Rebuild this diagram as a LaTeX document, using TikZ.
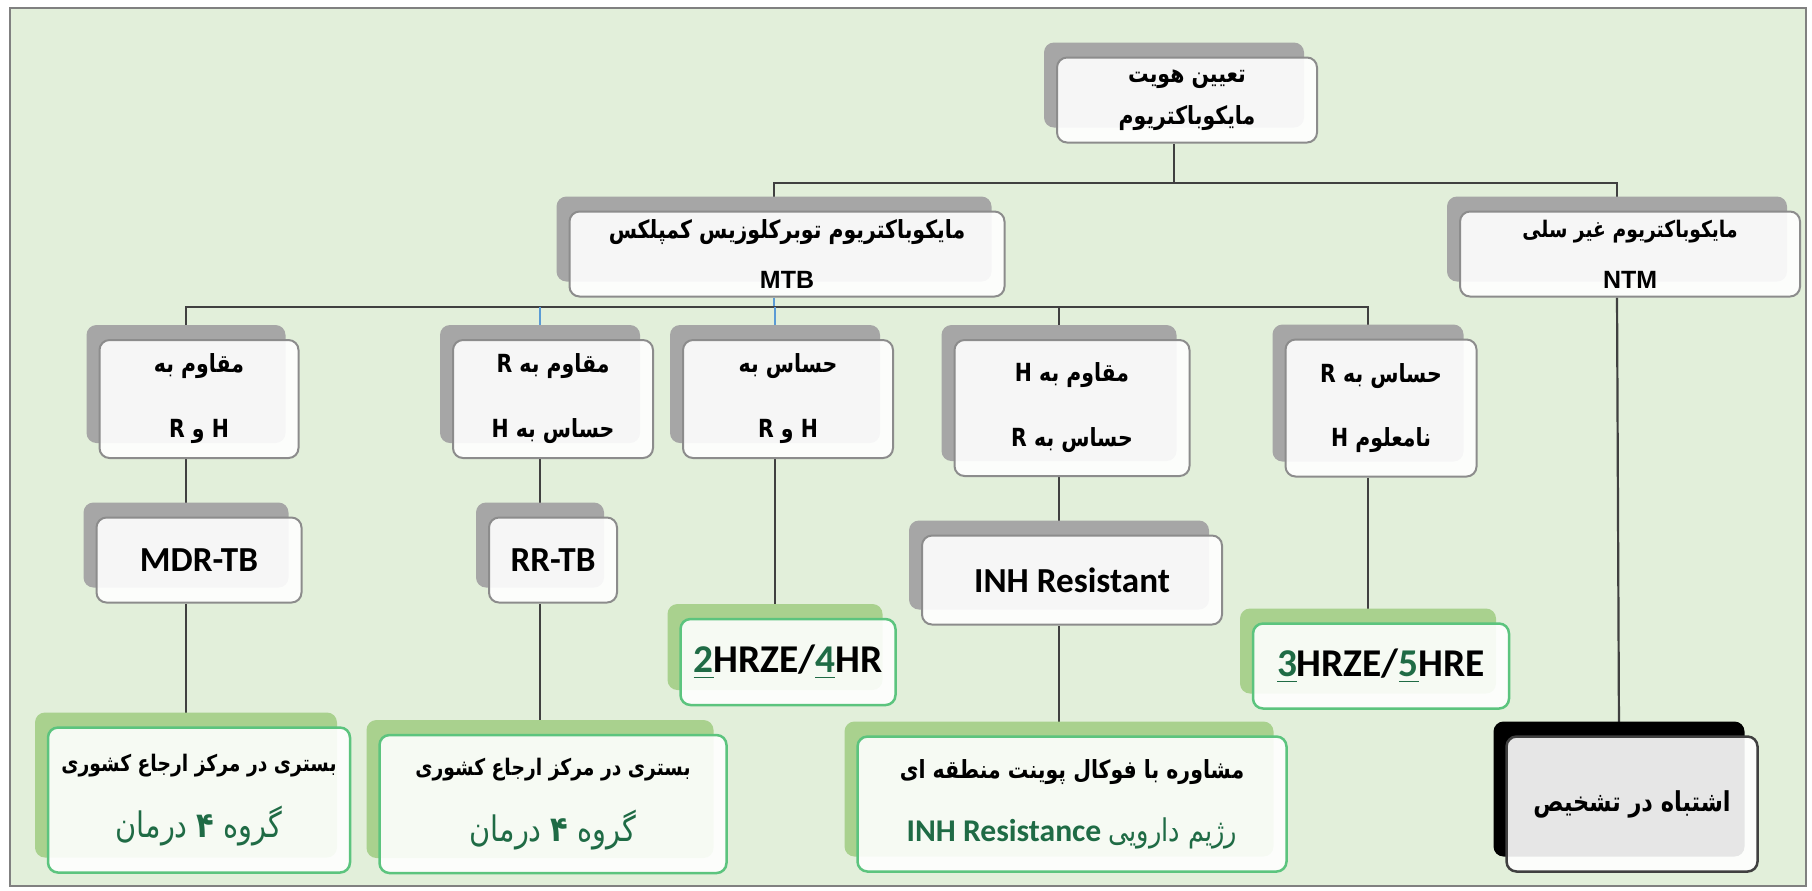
\documentclass[tikz,border=0pt]{standalone}
\usepackage{fontspec}
\usetikzlibrary{shadows}
\setmainfont{Carlito}
\newfontfamily\farsi[Script=Arabic,FakeStretch=0.82]{DejaVu Sans}
\newfontfamily\arialfont{Liberation Sans}
\TeXXeTstate=1
\definecolor{paper}{HTML}{E2EFDA}
\definecolor{frameline}{HTML}{808080}
\definecolor{shgray}{HTML}{A6A6A6}
\definecolor{edgegray}{HTML}{8C8C8C}
\definecolor{shgreen}{HTML}{A9D18E}
\definecolor{edgegreen}{HTML}{5CC47E}
\definecolor{txtgreen}{HTML}{1F6B45}
\definecolor{wiregray}{HTML}{404040}
\definecolor{wireblue}{HTML}{5B9BD5}
\newcommand{\rtlline}[1]{\beginR #1\endR}
\pgfdeclarelayer{paperlayer}
\pgfdeclarelayer{wirelayer}
\pgfsetlayers{paperlayer,wirelayer,main}

\begin{document}
\begin{tikzpicture}[x=0.1mm,y=-0.1mm,
  box/.style={rounded corners=1mm, line width=0.2mm, fill=white,
    fill opacity=0.9, text opacity=1, align=center, inner sep=0pt,
    general shadow={fill=#1, draw=none, fill opacity=1,
      shadow xshift=-1.3mm, shadow yshift=1.5mm}},
  graybox/.style={box=shgray, draw=edgegray,
    font=\farsi\bfseries\fontsize{7.1}{12}\selectfont},
  greenbox/.style={box=shgreen, draw=edgegreen, line width=0.25mm,
    font=\farsi\bfseries\fontsize{7.1}{12}\selectfont},
  darkbox/.style={box=black, draw=wiregray, line width=0.25mm,
    font=\farsi\bfseries\fontsize{7.8}{12}\selectfont},
  latin/.style={font=\rmfamily\bfseries\fontsize{10}{12}\selectfont},
  regimen/.style={font=\rmfamily\bfseries\fontsize{11.2}{13}\selectfont},
  wire/.style={draw=wiregray, line width=0.22mm},
  bluewire/.style={draw=wireblue, line width=0.15mm}]

\useasboundingbox (0,0) rectangle (1812,890);

\begin{pgfonlayer}{paperlayer}
\fill[white] (0,0) rectangle (1812,890);
\draw[frameline, fill=paper, line width=0.15mm] (10,8) rectangle (1806,886);
\end{pgfonlayer}

% top
\node[graybox, minimum width=26mm, minimum height=8.5mm] (ident) at (1187,100)
  {\rtlline{تعیین هویت}\\\rtlline{مایکوباکتریوم}};

% second row
\node[graybox, minimum width=43.5mm, minimum height=8.5mm] (mtb) at (787,254)
  {\rtlline{مایکوباکتریوم توبرکلوزیس کمپلکس}\\[2.5pt]{\arialfont MTB}};
\node[graybox, minimum width=34mm, minimum height=8.5mm] (ntm) at (1630,254)
  {{\fontsize{6.5}{12}\selectfont\rtlline{مایکوباکتریوم غیر سلی}}\\[2.5pt]{\arialfont NTM}};

% resistance patterns
\node[graybox, minimum width=19.9mm, minimum height=11.8mm] (r1) at (199,399)
  {\rtlline{مقاوم به}\\[6.5pt]\rtlline{H و R}};
\node[graybox, minimum width=20mm, minimum height=11.8mm] (r2) at (553,399)
  {\rtlline{مقاوم به R}\\[6.5pt]\rtlline{حساس به H}};
\node[graybox, minimum width=21mm, minimum height=11.8mm] (r3) at (788,399)
  {\rtlline{حساس به}\\[6.5pt]\rtlline{H و R}};
\node[graybox, minimum width=23.5mm, minimum height=13.6mm] (r4) at (1072,408)
  {\rtlline{مقاوم به H}\\[6.5pt]\rtlline{حساس به R}};
\node[graybox, minimum width=19.1mm, minimum height=13.7mm] (r5) at (1381,408)
  {\rtlline{حساس به R}\\[6pt]\rtlline{نامعلوم H}};

% diagnosis
\node[graybox, latin, minimum width=20.5mm, minimum height=8.5mm] (mdr) at (199,560) {MDR-TB};
\node[graybox, latin, minimum width=12.8mm, minimum height=8.5mm] (rr) at (553,560) {RR-TB};
\node[graybox, latin, minimum width=30mm, minimum height=8.9mm] (inh) at (1072,580) {INH Resistant};

% regimens
\node[greenbox, regimen, minimum width=21.5mm, minimum height=8.6mm] (t1) at (788,662)
  {{\color{txtgreen}\underline{2}}HRZE/{\color{txtgreen}\underline{4}}HR};
\node[greenbox, regimen, minimum width=25.6mm, minimum height=8.5mm] (t2) at (1381,666)
  {{\color{txtgreen}\underline{3}}HRZE/{\color{txtgreen}\underline{5}}HRE};

% referral
\node[greenbox, minimum width=30.2mm, minimum height=14.5mm] (b1) at (199,800)
  {{\fontsize{6.5}{12}\selectfont\rtlline{بستری در مرکز ارجاع کشوری}}\\[7pt]
   {\color{txtgreen}\mdseries\fontsize{10}{14}\selectfont\rtlline{گروه {\bfseries ۴} درمان}}};
\node[greenbox, minimum width=34.7mm, minimum height=13.8mm] (b2) at (553,804)
  {{\fontsize{6.5}{12}\selectfont\rtlline{بستری در مرکز ارجاع کشوری}}\\[7pt]
   {\color{txtgreen}\mdseries\fontsize{10}{14}\selectfont\rtlline{گروه {\bfseries ۴} درمان}}};
\node[greenbox, minimum width=42.9mm, minimum height=13.5mm] (b3) at (1072,804)
  {\rtlline{مشاوره با فوکال پوینت منطقه ای}\\[6pt]
   {\color{txtgreen}\rtlline{{\mdseries\fontsize{8.9}{12}\selectfont رژیم دارویی} \beginL{\rmfamily\fontsize{9}{12}\selectfont INH Resistance}\endL}}};
\node[darkbox, minimum width=25.1mm, minimum height=13.5mm] (b4) at (1632,804)
  {\rtlline{اشتباه در تشخیص}};

\begin{pgfonlayer}{wirelayer}
\coordinate (topbus) at (0,183);
\coordinate (midbus) at (0,307);
\draw[wire] ([xshift=-1.3mm]ident.south) -- ([xshift=-1.3mm]ident.south |- topbus);
\draw[wire] ([xshift=-1.3mm]mtb.north) |- ([xshift=-1.3mm]ntm.north |- topbus)
  -- ([xshift=-1.3mm]ntm.north);
\draw[bluewire] ([xshift=-1.3mm]mtb.south) -- ([xshift=-1.3mm]mtb.south |- midbus);
\draw[wire] ([xshift=-1.3mm]r1.north) |- ([xshift=-1.3mm]r5.north |- midbus)
  -- ([xshift=-1.3mm]r5.north);
\foreach \n in {r2,r3}
  \draw[bluewire] ([xshift=-1.3mm]\n.north) -- ([xshift=-1.3mm]\n.north |- midbus);
\draw[wire] ([xshift=-1.3mm]r4.north) -- ([xshift=-1.3mm]r4.north |- midbus);
\foreach \a/\b in {r1/mdr,mdr/b1,r2/rr,rr/b2,r3/t1,r4/inh,inh/b3,r5/t2,ntm/b4}
  \draw[wire] ([xshift=-1.3mm]\a.south) -- ([xshift=-1.3mm]\b.north);
\end{pgfonlayer}
\end{tikzpicture}
\end{document}
